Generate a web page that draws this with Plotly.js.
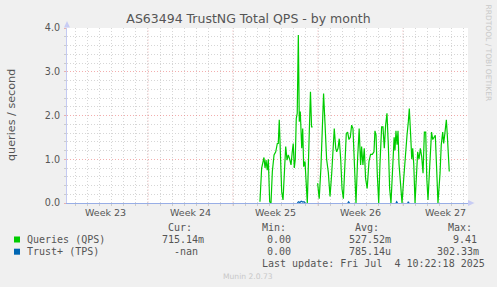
<!DOCTYPE html>
<html><head><meta charset="utf-8">
<script src="https://cdn.plot.ly/plotly-3.0.1.min.js"></script>
<style>html,body{margin:0;padding:0;background:#f0f0f0;}#chart{width:497px;height:287px;}</style>
</head><body><div id="chart"></div>
<script>
// x = day of June 2025 (fractional); 30 = Mon Jun 30, 33 = Jul 3
const qpsDay = [18.22,18.36,18.55,18.64,18.72,18.82,18.91,19.02,19.13,19.24,19.38,19.52,19.65,19.73,19.81,19.90,20.01,20.12,20.22,20.34,20.45,20.55,20.67,20.78,20.88,20.96,21.05,21.13,21.21,21.29,21.38,21.46,21.54,21.66,21.74,21.82,21.93,22.04,22.12,22.28,22.38,22.47,22.56,22.76,22.97,23.10,23.24,23.35,23.46,23.57,23.71,23.85,23.99,24.13,24.26,24.34,24.46,24.54,24.65,24.75,24.87,24.98,25.09,25.20,25.33,25.44,25.55,25.66,25.77,25.88,25.99,26.13,26.26,26.39,26.51,26.59,26.70,26.81,26.92,27.05,27.20,27.33,27.47,27.61,27.69,27.78,27.88,28.00,28.10,28.24,28.35,28.46,28.57,28.68,28.79,28.90,29.01,29.13,29.27,29.34,29.42,29.51,29.59,29.67,29.78,29.92,30.06,30.19,30.33,30.44,30.52,30.64,30.72,30.80,30.89,30.99,31.10,31.21,31.32,31.43,31.54,31.65,31.76,31.87,31.96,32.06,32.17,32.27,32.35,32.45,32.55,32.66,32.78,32.88,33.05,33.15,33.27,33.35,33.46,33.57,33.65,33.73,33.81];
const qpsVal = [0.03,0.80,1.04,0.80,0.98,0.75,1.00,0.03,0.00,0.72,1.10,1.17,1.36,1.36,1.90,1.33,0.26,0.07,0.72,1.29,0.98,1.10,1.00,0.87,1.17,1.36,0.80,1.00,1.93,2.05,3.84,1.86,2.09,1.25,1.70,0.83,0.95,0.30,0.00,1.60,2.54,1.74,1.74,null,0.45,0.10,0.80,1.86,2.50,1.86,1.00,0.70,0.15,0.68,1.17,1.70,1.25,1.17,1.25,1.47,1.00,0.32,0.10,0.87,1.59,1.62,1.45,1.50,1.78,1.70,0.80,0.00,1.00,1.70,0.87,1.29,0.87,1.25,0.56,0.33,0.95,1.11,1.11,1.17,1.65,1.55,0.68,0.00,0.87,1.74,1.74,1.25,1.78,2.05,1.33,0.33,0.00,0.78,1.50,1.20,1.65,1.33,1.65,0.90,0.49,0.00,0.56,1.17,1.55,1.86,2.16,1.50,1.00,1.25,0.87,0.00,0.72,1.17,1.00,1.25,1.06,0.68,1.62,1.62,0.56,0.07,0.68,1.25,1.62,1.45,1.50,1.55,0.72,0.00,0.68,1.33,1.62,1.36,1.62,1.90,1.55,1.25,0.72];
const tpsDay = [21.30,21.40,21.50,21.62,21.75,21.85,21.95,22.00,25.45,25.52,25.60,25.65,29.42,29.48,29.55,29.60,30.38,30.44,30.50];
const tpsVal = [0.00,0.03,0.01,0.04,0.02,0.03,0.00,null,0.00,0.03,0.00,null,0.00,0.03,0.00,null,0.00,0.03,0.00];

const weekMid = [5.5,12.5,19.5,26.5,33.5];
const weekLabels = ['Week 23','Week 24','Week 25','Week 26','Week 27'];
const weekStart = [9,16,23,30];

const seriesNames = ['Queries (QPS)','Trust+ (TPS)'];
const seriesColors = ['#00CC00','#0066B3'];
const statHeaders = ['Cur:','Min:','Avg:','Max:'];
const curVals = ['715.14m','-nan'];
const minVals = ['0.00','0.00'];
const avgVals = ['527.52m','785.14u'];
const maxVals = ['9.41','302.33m'];
const lastUpdate = 'Last update: Fri Jul \u00a04 10:22:18 2025';
const titleText = 'AS63494 TrustNG Total QPS - by month';
const yTitle = 'queries / second';

// pixel helpers (plot area 67..468 x 28..203)
const L=67,R=468,T=28,B=203;
const fx = px => (px-L)/(R-L);
const fy = py => (B-py)/(B-T);

const traces = [
  {x:qpsDay, y:qpsVal, type:'scatter', mode:'lines', line:{color:seriesColors[0], width:1.2}, connectgaps:false, hoverinfo:'skip'},
  {x:tpsDay, y:tpsVal, type:'scatter', mode:'lines', line:{color:seriesColors[1], width:1.2}, connectgaps:false, hoverinfo:'skip'}
];

const grey = '#555';
const gridGrey = '#d6d6d6';
const gridRed = 'rgba(235,120,120,0.6)';
const ann = [];
weekMid.forEach((d,i)=>ann.push({x:d, xref:'x', y:fy(212.5), yref:'paper', text:weekLabels[i], showarrow:false, xanchor:'center', yanchor:'middle', font:{family:'DejaVu Sans', size:9.5, color:grey}}));
ann.push({x:fx(11), xref:'paper', y:fy(115), yref:'paper', text:yTitle, textangle:-90, showarrow:false, xanchor:'center', yanchor:'middle', font:{family:'DejaVu Sans', size:11.2, color:grey}});
ann.push({x:fx(488.5), xref:'paper', y:fy(53), yref:'paper', text:'RRDTOOL / TOBI OETIKER', textangle:90, showarrow:false, xanchor:'center', yanchor:'middle', font:{family:'DejaVu Sans', size:7.5, color:'#c8c8c8'}});
ann.push({x:fx(248), xref:'paper', y:fy(276), yref:'paper', text:'Munin 2.0.73', showarrow:false, xanchor:'center', yanchor:'middle', font:{family:'DejaVu Sans', size:7.6, color:'#c8c8c8'}});
const mono = {family:'DejaVu Sans Mono', size:10, color:grey};
const txt = (s,px,py)=>ann.push({x:fx(px-1.5), xref:'paper', y:fy(py), yref:'paper', text:s, showarrow:false, xanchor:'left', yanchor:'middle', font:mono});
const hx = [167.5,261,354.5,447];
statHeaders.forEach((h,i)=>txt(h,hx[i],227.5));
const rowY = [239.5,251.7];
const colX = [[161,266.7,348.3,452.7],[173.3,266.7,348.3,436.7]];
seriesNames.forEach((n,r)=>{
  txt(n,26,rowY[r]);
  [curVals[r],minVals[r],avgVals[r],maxVals[r]].forEach((v,c)=>txt(v,colX[r][c],rowY[r]));
});
txt(lastUpdate,261,263.5);

const shapes = [];
weekStart.forEach(d=>shapes.push({type:'line', xref:'x', x0:d, x1:d, yref:'paper', y0:fy(205.5), y1:1, line:{color:gridRed, width:1, dash:'1px,2px'}, layer:'between'}));
seriesColors.forEach((c,r)=>shapes.push({type:'rect', xref:'paper', yref:'paper', x0:fx(14), x1:fx(20), y0:fy(rowY[r]-3), y1:fy(rowY[r]+3), fillcolor:c, line:{width:0}}));
shapes.push({type:'path', xref:'paper', yref:'paper', path:`M${fx(64)},${fy(27.5)} L${fx(67)},${fy(21)} L${fx(70)},${fy(27.5)} Z`, fillcolor:'#c8ccf4', line:{width:0}});
shapes.push({type:'path', xref:'paper', yref:'paper', path:`M${fx(468)},${fy(200)} L${fx(474.5)},${fy(203)} L${fx(468)},${fy(206)} Z`, fillcolor:'#c8ccf4', line:{width:0}});

const layout = {
  width:497, height:287,
  margin:{l:L, r:497-R, t:T, b:287-B, pad:0},
  paper_bgcolor:'#f0f0f0', plot_bgcolor:'#ffffff',
  showlegend:false,
  title:{text:titleText, font:{family:'DejaVu Sans', size:12.5, color:grey}, x:0.5, xref:'container', xanchor:'center', y:1-19/287, yref:'container', yanchor:'middle'},
  xaxis:{range:[2.330,35.353], tickmode:'linear', tick0:0, dtick:1, showticklabels:false, ticks:'outside', ticklen:2, tickcolor:'#cccccc',
         showgrid:true, gridcolor:gridGrey, griddash:'1px,2px', gridwidth:1, zeroline:false, showline:true, linecolor:'#98aee6', linewidth:1, fixedrange:true},
  yaxis:{range:[0,4], tickmode:'linear', tick0:0, dtick:1, tickformat:'.1f', ticks:'outside', ticklen:2, tickcolor:'#e8b0b0', ticklabelstandoff:2,
         tickfont:{family:'DejaVu Sans', size:9.6, color:grey},
         showgrid:true, gridcolor:gridRed, griddash:'1px,2px', gridwidth:1, zeroline:false, showline:true, linecolor:'#c4caf2', linewidth:1,
         minor:{tick0:0, dtick:0.2, showgrid:true, gridcolor:gridGrey, griddash:'1px,2px', ticks:'outside', ticklen:2, tickcolor:'#cccccc'}, fixedrange:true},
  annotations:ann, shapes:shapes
};
Plotly.newPlot('chart', traces, layout, {staticPlot:true, displayModeBar:false});
</script></body></html>
